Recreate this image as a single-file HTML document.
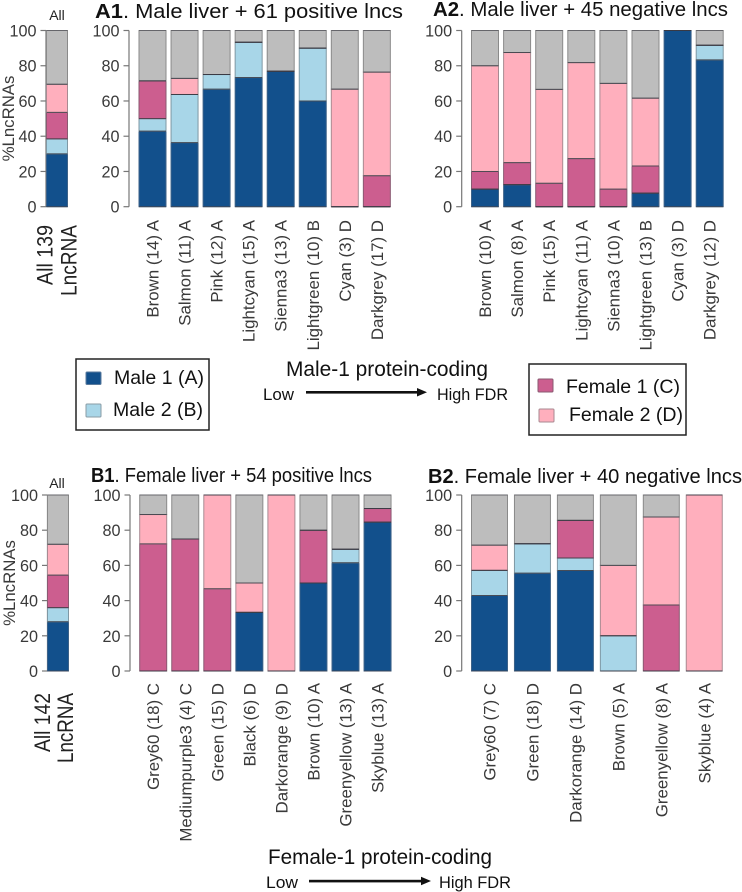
<!DOCTYPE html>
<html lang="en">
<head>
<meta charset="utf-8">
<title>LncRNA module composition chart</title>
<style>
html,body{margin:0;padding:0;background:#fff;}
#root{display:block;width:742px;height:892px;font-family:"Liberation Sans",sans-serif;filter:blur(0.35px);}
</style>
</head>
<body>
<svg id="root" xmlns="http://www.w3.org/2000/svg" width="742" height="892" viewBox="0 0 742 892">
  <g fill="#111" font-size="20">
    <text x="95" y="18" textLength="308" lengthAdjust="spacingAndGlyphs"><tspan font-weight="bold">A1</tspan>. Male liver + 61 positive lncs</text>
    <text x="433" y="16" textLength="295" lengthAdjust="spacingAndGlyphs"><tspan font-weight="bold">A2</tspan>. Male liver + 45 negative lncs</text>
    <text x="91" y="482" textLength="281" lengthAdjust="spacingAndGlyphs"><tspan font-weight="bold">B1</tspan>. Female liver + 54 positive lncs</text>
    <text x="428" y="483" textLength="314" lengthAdjust="spacingAndGlyphs"><tspan font-weight="bold">B2</tspan>. Female liver + 40 negative lncs</text>
  </g>

  <g fill="#222">
    <text x="57" y="20" font-size="14" text-anchor="middle">All</text>
    <text x="57" y="488" font-size="14" text-anchor="middle">All</text>
    <text transform="translate(52.5,285) rotate(-90)" font-size="22" textLength="60" lengthAdjust="spacingAndGlyphs">All 139</text>
    <text transform="translate(76.5,296) rotate(-90)" font-size="22" textLength="71" lengthAdjust="spacingAndGlyphs">LncRNA</text>
    <text transform="translate(50,752) rotate(-90)" font-size="22" textLength="59" lengthAdjust="spacingAndGlyphs">All 142</text>
    <text transform="translate(73,763) rotate(-90)" font-size="22" textLength="70" lengthAdjust="spacingAndGlyphs">LncRNA</text>
  </g>

  <g fill="#3a3a3a" font-size="16.8" text-anchor="middle">
    <text transform="translate(14,118.5) rotate(-90)">%LncRNAs</text>
    <text transform="translate(15,583) rotate(-90)">%LncRNAs</text>
  </g>

  <g id="charts"></g>

  <g>
    <rect x="76" y="359" width="133" height="71" fill="#fff" stroke="#222" stroke-width="1.5"/>
    <rect x="86" y="372" width="15" height="12.5" rx="1" fill="#12508c" stroke="#5a7a9c"/>
    <text x="114" y="384" font-size="19.5" fill="#111" textLength="90" lengthAdjust="spacingAndGlyphs">Male 1 (A)</text>
    <rect x="86" y="404" width="15" height="13" rx="1" fill="#a8d6e8" stroke="#8a9ca6"/>
    <text x="113" y="416" font-size="19.5" fill="#111" textLength="90" lengthAdjust="spacingAndGlyphs">Male 2 (B)</text>
  </g>

  <g>
    <rect x="529" y="364" width="157" height="71" fill="#fff" stroke="#222" stroke-width="1.5"/>
    <rect x="538" y="379" width="15" height="13" rx="1" fill="#cc5e8f" stroke="#8a5a72"/>
    <text x="566" y="393" font-size="19.5" fill="#111" textLength="114" lengthAdjust="spacingAndGlyphs">Female 1 (C)</text>
    <rect x="539" y="409" width="15" height="13" rx="1" fill="#ffafbd" stroke="#a98a92"/>
    <text x="569" y="421" font-size="19.5" fill="#111" textLength="114" lengthAdjust="spacingAndGlyphs">Female 2 (D)</text>
  </g>

  <g fill="#111">
    <text x="286" y="376" font-size="21" textLength="202" lengthAdjust="spacingAndGlyphs">Male-1 protein-coding</text>
    <text x="263" y="400" font-size="17" textLength="31" lengthAdjust="spacingAndGlyphs">Low</text>
    <rect x="306" y="391" width="113" height="2.6"/>
    <polygon points="417,388 427,392.3 417,396.5"/>
    <text x="437" y="400" font-size="17" textLength="71" lengthAdjust="spacingAndGlyphs">High FDR</text>
  </g>

  <g fill="#111">
    <text x="268" y="864" font-size="21" textLength="224" lengthAdjust="spacingAndGlyphs">Female-1 protein-coding</text>
    <text x="266" y="888" font-size="17" textLength="32" lengthAdjust="spacingAndGlyphs">Low</text>
    <rect x="309" y="879.8" width="114" height="2.6"/>
    <polygon points="421,876.8 431,881 421,885.2"/>
    <text x="439" y="888" font-size="17" textLength="72" lengthAdjust="spacingAndGlyphs">High FDR</text>
  </g>
</svg>

<script>
// ---- Data (percentages) ----
const yTicks = [0, 20, 40, 60, 80, 100];

const allACategories = ['All 139 LncRNA'];
const allAMale1 = [30];
const allAMale2 = [8.5];
const allAFemale1 = [15];
const allAFemale2 = [16];

const a1Categories = ['Brown (14) A', 'Salmon (11) A', 'Pink (12) A', 'Lightcyan (15) A', 'Sienna3 (13) A', 'Lightgreen (10) B', 'Cyan (3) D', 'Darkgrey (17) D'];
const a1Male1 = [42.9, 36.4, 66.7, 73.3, 76.9, 60, 0, 0];
const a1Male2 = [7.1, 27.3, 8.3, 20, 0, 30, 0, 0];
const a1Female1 = [21.4, 0, 0, 0, 0, 0, 0, 17.6];
const a1Female2 = [0, 9.1, 0, 0, 0, 0, 66.7, 58.8];

const a2Categories = ['Brown (10) A', 'Salmon (8) A', 'Pink (15) A', 'Lightcyan (11) A', 'Sienna3 (10) A', 'Lightgreen (13) B', 'Cyan (3) D', 'Darkgrey (12) D'];
const a2Male1 = [10, 12.5, 0, 0, 0, 7.7, 100, 83.3];
const a2Male2 = [0, 0, 0, 0, 0, 0, 0, 8.3];
const a2Female1 = [10, 12.5, 13.3, 27.3, 10, 15.4, 0, 0];
const a2Female2 = [60, 62.5, 53.3, 54.5, 60, 38.5, 0, 0];

const allBCategories = ['All 142 LncRNA'];
const allBMale1 = [28];
const allBMale2 = [8];
const allBFemale1 = [18.5];
const allBFemale2 = [17.5];

const b1Categories = ['Grey60 (18) C', 'Mediumpurple3 (4) C', 'Green (15) D', 'Black (6) D', 'Darkorange (9) D', 'Brown (10) A', 'Greenyellow (13) A', 'Skyblue (13) A'];
const b1Male1 = [0, 0, 0, 33.3, 0, 50, 61.5, 84.6];
const b1Male2 = [0, 0, 0, 0, 0, 0, 7.7, 0];
const b1Female1 = [72.2, 75, 46.7, 0, 0, 30, 0, 7.7];
const b1Female2 = [16.7, 0, 53.3, 16.7, 100, 0, 0, 0];

const b2Categories = ['Grey60 (7) C', 'Green (18) D', 'Darkorange (14) D', 'Brown (5) A', 'Greenyellow (8) A', 'Skyblue (4) A'];
const b2Male1 = [42.9, 55.6, 57.1, 0, 0, 0];
const b2Male2 = [14.3, 16.7, 7.1, 20, 0, 0];
const b2Female1 = [0, 0, 21.4, 0, 37.5, 0];
const b2Female2 = [14.3, 0, 0, 40, 50, 100];

// ---- Rendering ----
const NS = 'http://www.w3.org/2000/svg';
const chartsRoot = document.getElementById('charts');
const segmentNames = ['male-1', 'male-2', 'female-1', 'female-2', 'other'];
const segmentFills = ['#12508c', '#a8d6e8', '#cc5e8f', '#ffafbd', '#bdbdbd'];
const segmentStrokes = ['#3d6288', '#7f98a4', '#8a5a72', '#a88a92', '#8a8a8a'];

function make(tag, attrs, parent) {
  const el = document.createElementNS(NS, tag);
  Object.keys(attrs).forEach(function (k) { el.setAttribute(k, attrs[k]); });
  parent.appendChild(el);
  return el;
}

function drawPanel(panelId, cats, male1, male2, female1, female2, geom) {
  const yScale = function (v) { return geom.y0 + (geom.y100 - geom.y0) * v / 100; };
  const xScale = function (i) { return geom.barStart + i * geom.pitch; };

  const panel = make('g', {}, chartsRoot);
  
  

  const axisLine = make('line', { x1: geom.axisX, x2: geom.axisX, y1: yScale(0), y2: yScale(100), stroke: '#777', 'stroke-width': 1.2 }, panel);
  
  

  yTicks.forEach(function (t) {
    const tick = make('line', { x1: geom.axisX - 5.5, x2: geom.axisX, y1: yScale(t), y2: yScale(t), stroke: '#777', 'stroke-width': 1.2 }, panel);
    
    
    const label = make('text', { x: geom.axisX - 9.5, y: yScale(t) + 6, 'font-size': 16.2, fill: '#3a3a3a', 'text-anchor': 'end' }, panel);
    
    
    label.textContent = t;
  });

  cats.forEach(function (cat, i) {
    const rest = Math.max(0, 100 - male1[i] - male2[i] - female1[i] - female2[i]);
    const values = [male1[i], male2[i], female1[i], female2[i], rest];
    let cum = 0;
    values.forEach(function (v, s) {
      const top = yScale(cum + v);
      const bottom = yScale(cum);
      cum += v;
      if (v > 0) {
        const seg = make('rect', {
          x: xScale(i), y: top, width: geom.barWidth, height: bottom - top,
          fill: segmentFills[s], stroke: segmentStrokes[s], 'stroke-width': 1
        }, panel);
        
        
      }
    });
    // dark dividers between stacked segments, as in the reference
    let edge = 0;
    values.forEach(function (v, s) {
      edge += v;
      const divider = make('line', {
        x1: xScale(i), x2: xScale(i) + geom.barWidth, y1: yScale(edge), y2: yScale(edge),
        stroke: '#3a3a44', 'stroke-width': 1, 'stroke-opacity': s === 4 ? 0.45 : 0.8
      }, panel);
      
      
    });
    const baseLine = make('line', {
      x1: xScale(i), x2: xScale(i) + geom.barWidth, y1: yScale(0), y2: yScale(0),
      stroke: '#3a3a44', 'stroke-width': 1, 'stroke-opacity': 0.7
    }, panel);
    
    
    if (geom.labels) {
      const cx = xScale(i) + geom.barWidth / 2;
      const catLabel = make('text', {
        transform: 'translate(' + (cx + 6) + ',' + geom.labelTop + ') rotate(-90)',
        'font-size': 16.9, fill: '#3a3a3a', 'text-anchor': 'end'
      }, panel);
      
      
      catLabel.textContent = cat;
    }
  });
}

drawPanel('all-a', allACategories, allAMale1, allAMale2, allAFemale1, allAFemale2,
  { y0: 206.7, y100: 30.5, axisX: 46, barStart: 46.5, pitch: 32, barWidth: 21, labels: false });
drawPanel('a1', a1Categories, a1Male1, a1Male2, a1Female1, a1Female2,
  { y0: 206.7, y100: 30.5, axisX: 129, barStart: 139, pitch: 32.05, barWidth: 27, labels: true, labelTop: 220 });
drawPanel('a2', a2Categories, a2Male1, a2Male2, a2Female1, a2Female2,
  { y0: 206.7, y100: 30.5, axisX: 461.7, barStart: 471.5, pitch: 32.1, barWidth: 27, labels: true, labelTop: 220 });
drawPanel('all-b', allBCategories, allBMale1, allBMale2, allBFemale1, allBFemale2,
  { y0: 671, y100: 495, axisX: 47.5, barStart: 47.5, pitch: 32, barWidth: 21, labels: false });
drawPanel('b1', b1Categories, b1Male1, b1Male2, b1Female1, b1Female2,
  { y0: 671, y100: 495, axisX: 130, barStart: 139.7, pitch: 32.05, barWidth: 27, labels: true, labelTop: 683 });
drawPanel('b2', b2Categories, b2Male1, b2Male2, b2Female1, b2Female2,
  { y0: 671, y100: 495, axisX: 461.7, barStart: 471.5, pitch: 42.95, barWidth: 36, labels: true, labelTop: 683 });
</script>
</body>
</html>
